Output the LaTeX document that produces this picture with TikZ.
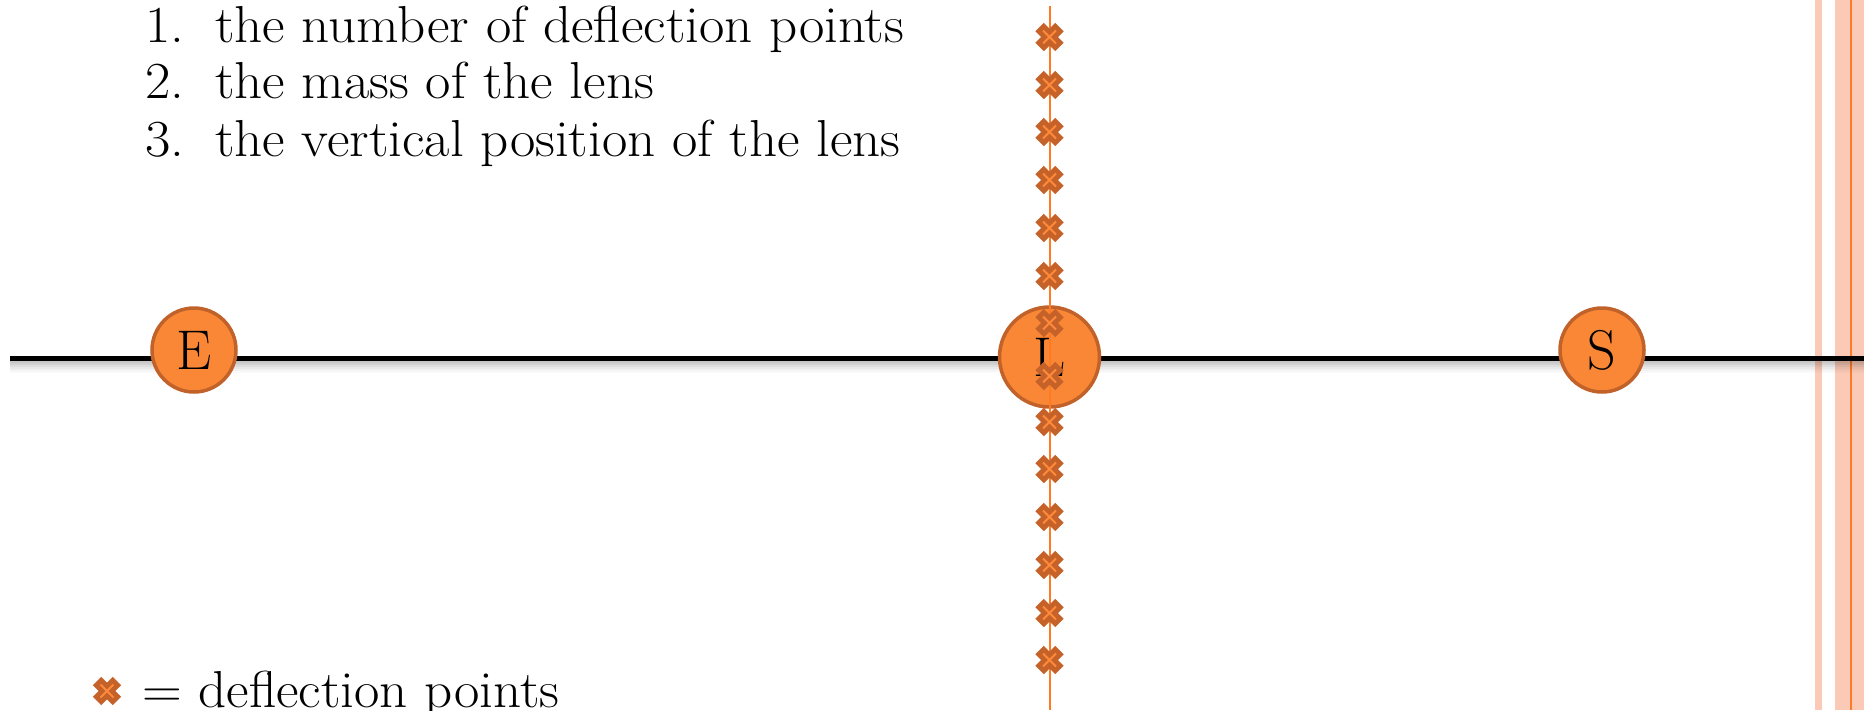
\documentclass[tikz,border=0pt]{standalone}
\definecolor{circfill}{HTML}{FA8735}
\definecolor{circdraw}{HTML}{C0622A}
\definecolor{crossdark}{HTML}{C4622A}
\definecolor{crosslight}{HTML}{FF8A3A}
\definecolor{lensline}{HTML}{FF7A22}
\definecolor{stripe}{HTML}{FBCAB7}
\newcommand{\wide}[1]{\scalebox{1.06}[1]{#1}}
\tikzset{
  body/.style={circle, fill=circfill, draw=circdraw, line width=3.5pt, inner sep=0pt, font=\fontsize{56}{56}\selectfont},
  listtxt/.style={anchor=base west, inner sep=0pt, font=\fontsize{52}{60}\selectfont},
  pics/defl/.style={code={
    \fill[crossdark, rotate=45] (-14,-6) rectangle (14,6);
    \fill[crossdark, rotate=-45] (-14,-6) rectangle (14,6);
    \draw[crosslight, line width=2pt] (-6.5,-6.5) -- (6.5,6.5) (-6.5,6.5) -- (6.5,-6.5);
  }}
}
\begin{document}
\begin{tikzpicture}[x=1pt,y=-1pt]
\useasboundingbox (0,0) rectangle (1864,710);
% right stripes
\fill[stripe] (1815,0) rectangle (1822,710);
\fill[stripe] (1835,0) rectangle (1864,710);
\draw[lensline, line width=2pt] (1851,0) -- (1851,710);
% axis shadow
\foreach \d/\o in {2/0.22,4/0.18,6/0.13,8/0.09,10/0.05,12/0.025}
  \draw[black, opacity=\o, line width=2pt] (10,360+\d) -- (1864,360+\d);
% nodes
\coordinate (axl) at (10,358);
\coordinate (axr) at (1864,358);
\draw[line width=5pt] (axl) -- (axr);
\node[body, minimum size=84pt] (E) at (194,350) {E};
\node[body, minimum size=100pt] (L) at (1049.5,357) {L};
\node[body, minimum size=84pt] (S) at (1602,350) {S};
\coordinate (vt) at (1049.5,6);
\coordinate (vb) at (1049.5,710);
\draw[lensline, line width=2pt] (vt) -- (vb);
\foreach \yy in {37,85,132,180,228,276,323,376,422,469,517,565,613,660}
  \pic at (1049.5,\yy) {defl};
% list
\node[listtxt] (n1) at (145,42) {\wide{1.}};
\node[listtxt] (t1) at (215,42) {\wide{the number of deflection points}};
\node[listtxt] (n2) at (145,98) {\wide{2.}};
\node[listtxt] (t2) at (215,98) {\wide{the mass of the lens}};
\node[listtxt] (n3) at (145,156) {\wide{3.}};
\node[listtxt] (t3) at (215,156) {\wide{the vertical position of the lens}};
% legend
\pic at (107,691) {defl};
\node[listtxt] (leg) at (142,707) {\wide{= deflection points}};
\end{tikzpicture}
\end{document}
